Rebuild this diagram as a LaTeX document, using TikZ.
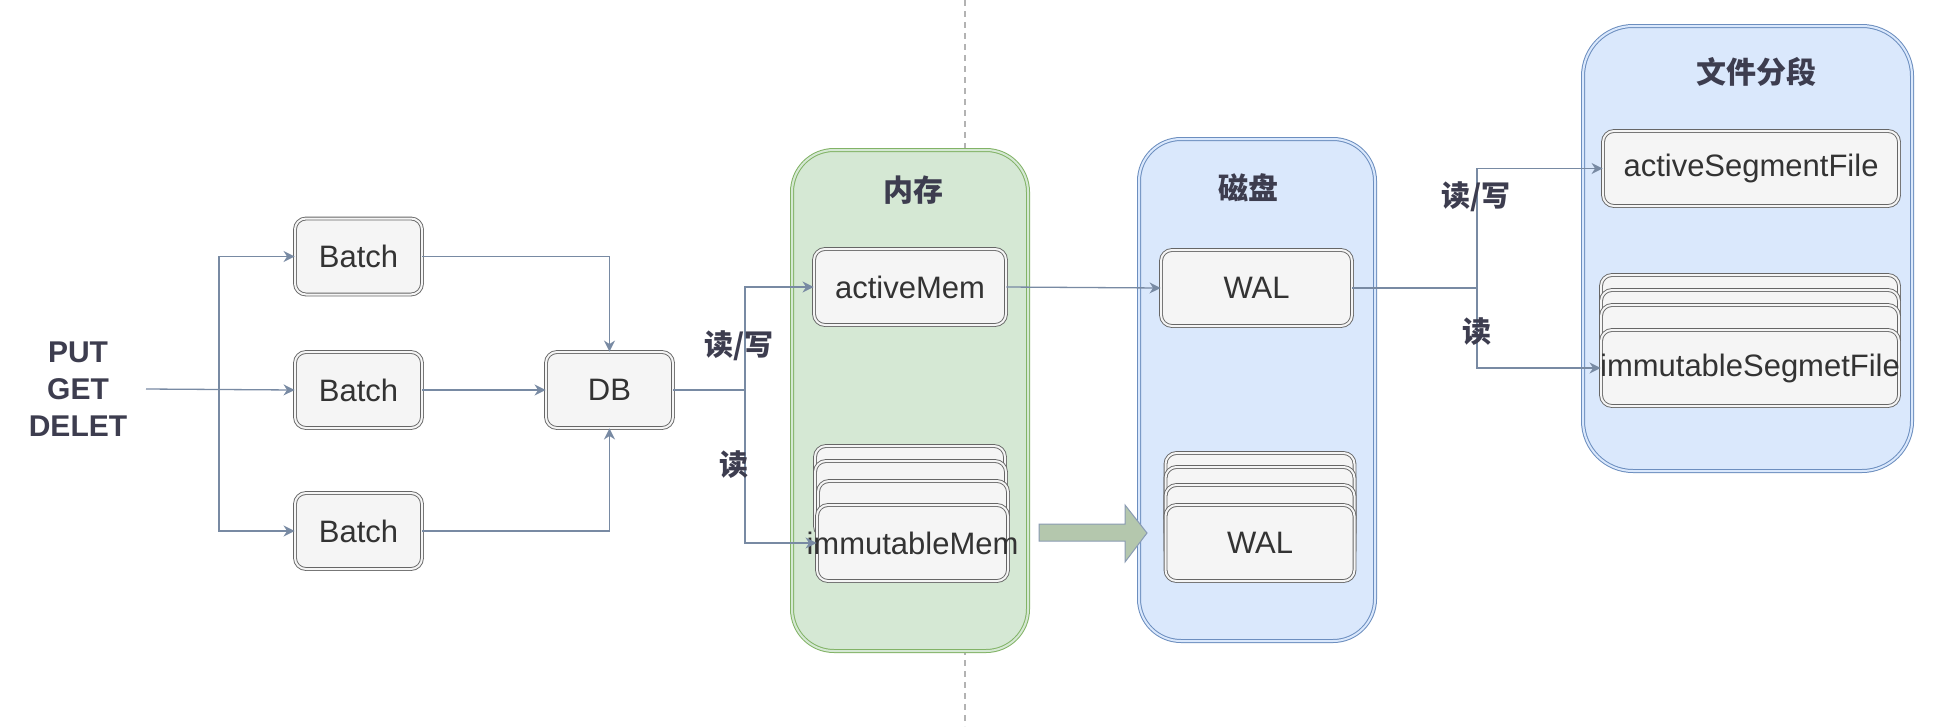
\documentclass[tikz,border=0pt]{standalone}
\usepackage{fontspec}
\setmainfont{Liberation Sans}
\newfontfamily\cjk{Noto Sans CJK SC}
\usetikzlibrary{arrows.meta}
\definecolor{cardline}{HTML}{666666}
\definecolor{cardfill}{HTML}{F5F5F5}
\definecolor{cardtext}{HTML}{333333}
\definecolor{conn}{HTML}{788AA3}
\definecolor{lbl}{HTML}{3D3D4F}
\definecolor{greenline}{HTML}{82B366}
\definecolor{greenfill}{HTML}{D5E8D4}
\definecolor{blueline}{HTML}{6C8EBF}
\definecolor{bluefill}{HTML}{DAE8FC}
\definecolor{arrfill}{HTML}{B4C7AD}
\definecolor{arrline}{HTML}{8A9BB3}
\definecolor{dashc}{HTML}{B3B3B3}
\tikzset{
  card/.style={draw=cardline, line width=0.9pt, double=cardfill, double distance=2pt,
    fill=cardfill, rounded corners=11pt, text=cardtext, inner sep=0pt,
    font=\fontsize{31}{37}\selectfont},
  gbox/.style={draw=greenline, line width=1pt, double=greenfill, double distance=2pt,
    fill=greenfill, rounded corners=42pt, inner sep=0pt},
  bbox/.style={draw=blueline, line width=1pt, double=bluefill, double distance=2pt,
    fill=bluefill, rounded corners=42pt, inner sep=0pt},
  title/.style={text=lbl, font=\cjk\bfseries\fontsize{30}{36}\selectfont, inner sep=0pt},
  edgelbl/.style={text=lbl, font=\cjk\bfseries\fontsize{29}{34}\selectfont, inner sep=0pt},
  conline/.style={draw=conn, line width=1.3pt},
  conarrow/.style={conline, -{Stealth[length=11pt,width=11pt,inset=3.5pt]}},
  overtext/.style={text=cardtext, font=\fontsize{31}{37}\selectfont, inner sep=0pt}
}
\begin{document}
\begin{tikzpicture}[x=1pt,y=-1pt]
\useasboundingbox (0,0) rectangle (1938,726);
\fill[white] (0,0) rectangle (1938,726);

% dashed separator
\coordinate (dtop) at (965,0);
\coordinate (dbot) at (965,726);
\draw[dashc, line width=1.6pt, dash pattern=on 6pt off 5pt] (dtop) -- (dbot);

% containers
\node[gbox, minimum width=236pt, minimum height=501pt] (mem) at (910,400.5) {};
\node[bbox, minimum width=236pt, minimum height=502pt] (disk) at (1257,390) {};
\node[bbox, minimum width=329pt, minimum height=445pt, rounded corners=50pt] (seg) at (1747.5,248.5) {};
\node[title] (memt) at (913,190) {内存};
\node[title] (diskt) at (1248,188) {磁盘};
\node[title] (segt) at (1756,72) {文件分段};

% left text
\node[text=lbl, font=\bfseries\fontsize{30}{37}\selectfont, align=center, inner sep=0pt] (ops) at (78,389) {PUT\\GET\\DELET};
\coordinate (opsout) at (146,389);
\coordinate (split1) at (219,389);

% batches and DB
\node[card, minimum width=127pt, minimum height=76pt] (b1) at (358.5,256.5) {Batch};
\node[card, minimum width=127pt, minimum height=76pt] (b2) at (358.5,390) {Batch};
\node[card, minimum width=127pt, minimum height=76pt] (b3) at (358.5,531) {Batch};
\node[card, minimum width=127pt, minimum height=76pt] (db) at (609.5,390) {DB};

% memory
\node[card, minimum width=192pt, minimum height=76pt] (am) at (910,287) {activeMem};
\node[card, minimum width=190pt, minimum height=76pt] (im1) at (910,484) {};
\node[card, minimum width=191pt, minimum height=76pt] (im2) at (910.5,499) {};
\node[card, minimum width=190pt, minimum height=76pt] (im3) at (913,519) {};
\node[card, minimum width=191pt, minimum height=76pt] (im) at (912.5,543) {};
\node[overtext] (imt) at (im.center) {immutableMem};

% disk
\node[card, minimum width=191pt, minimum height=76pt] (w1) at (1256.5,288) {WAL};
\node[card, minimum width=189pt, minimum height=76pt] (w2a) at (1260,491) {};
\node[card, minimum width=189pt, minimum height=76pt] (w2b) at (1260,505) {};
\node[card, minimum width=189pt, minimum height=76pt] (w2c) at (1260,523) {};
\node[card, minimum width=189pt, minimum height=76pt] (w2) at (1260,543) {WAL};

% segments
\node[card, minimum width=296pt, minimum height=75pt] (asf) at (1751,168.5) {activeSegmentFile};
\node[card, minimum width=298pt, minimum height=76pt] (s1) at (1750,313) {};
\node[card, minimum width=298pt, minimum height=76pt] (s2) at (1750,328) {};
\node[card, minimum width=298pt, minimum height=76pt] (s3) at (1750,343) {};
\node[card, minimum width=298pt, minimum height=76pt] (isf) at (1750,368) {};
\node[overtext] (isft) at (isf.center) {immutableSegmetFile};

% block arrow memory -> disk
\coordinate (ba0) at (1039,524);
\filldraw[fill=arrfill, draw=arrline, line width=1pt]
  (1039,524) -- (1125,524) -- (1125,505) -- (1147,533) -- (1125,562) -- (1125,541) -- (1039,541) -- cycle;

% connectors left
\draw[conarrow] (opsout) -- (b2.west);
\draw[conarrow] (split1) |- (b1.west);
\draw[conarrow] (split1) |- (b3.west);
\draw[conarrow] (b1.east) -| (db.north);
\draw[conarrow] (b3.east) -| (db.south);
\draw[conarrow] (b2.east) -- (db.west);

% DB -> memory
\coordinate (split2) at (745,390);
\draw[conline] (db.east) -- (split2);
\draw[conarrow] (split2) |- (am.west);
\draw[conarrow] (split2) |- (im.west);
\node[edgelbl] (l1) at (739,346) {读/写};
\node[edgelbl] (l2) at (734,465) {读};

% activeMem -> WAL
\draw[conarrow] (am.east) -- (w1.west);

% WAL -> segments
\coordinate (split3) at (1477,288);
\draw[conline] (w1.east) -- (split3);
\draw[conarrow] (split3) |- (asf.west);
\draw[conarrow] (split3) |- (isf.west);
\node[edgelbl] (l3) at (1476,197) {读/写};
\node[edgelbl] (l4) at (1477,332) {读};
\end{tikzpicture}
\end{document}
